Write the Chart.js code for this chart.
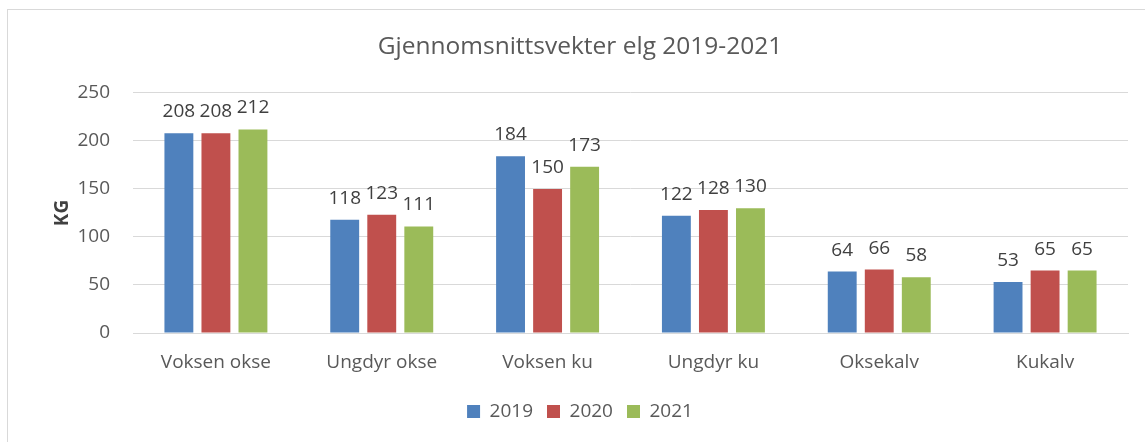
<!DOCTYPE html>
<html>
<head>
<meta charset="utf-8">
<script src="https://cdn.jsdelivr.net/npm/chart.js@4.4.1/dist/chart.umd.min.js"></script>
<style>
  html, body { margin: 0; padding: 0; background: #fff; overflow: hidden; width: 1145px; height: 442px; }
  #frame { position: absolute; left: 7px; top: 9px; width: 1160px; height: 460px; border: 1px solid #d9d9d9; box-sizing: border-box; }
  #c { position: absolute; left: 32px; top: 0; }
</style>
</head>
<body>
<div id="frame"></div>
<canvas id="c" width="1113" height="442"></canvas>
<script>
const categories = ["Voksen okse", "Ungdyr okse", "Voksen ku", "Ungdyr ku", "Oksekalv", "Kukalv"];
const seriesNames = ["2019", "2020", "2021"];
const values2019 = [208, 118, 184, 122, 64, 53];
const values2020 = [208, 123, 150, 128, 66, 65];
const values2021 = [212, 111, 173, 130, 58, 65];
const yTicks = [0, 50, 100, 150, 200, 250];

const colors = ["#4F81BD", "#C0504D", "#9BBB59"];
const FONT = "'Open Sans', 'Noto Sans', sans-serif";
const TXT = "#595959";

const valueLabels = {
  id: 'valueLabels',
  afterDatasetsDraw(chart) {
    const ctx = chart.ctx;
    ctx.save();
    ctx.font = "19px " + FONT;
    ctx.fillStyle = "#404040";
    ctx.textAlign = "center";
    ctx.textBaseline = "alphabetic";
    chart.data.datasets.forEach((ds, i) => {
      const meta = chart.getDatasetMeta(i);
      meta.data.forEach((bar, j) => {
        ctx.fillText(String(ds.data[j]), bar.x, bar.y - 16);
      });
    });
    ctx.restore();
  }
};

new Chart(document.getElementById('c'), {
  type: 'bar',
  data: {
    labels: categories,
    datasets: [
      { label: seriesNames[0], data: values2019, backgroundColor: colors[0] },
      { label: seriesNames[1], data: values2020, backgroundColor: colors[1] },
      { label: seriesNames[2], data: values2021, backgroundColor: colors[2] }
    ]
  },
  options: {
    responsive: false,
    animation: false,
    devicePixelRatio: 1,
    layout: { padding: { left: 0, right: 17, top: 0, bottom: 11 } },
    datasets: { bar: { categoryPercentage: 0.67, barPercentage: 0.78 } },
    plugins: {
      title: {
        display: true,
        text: "Gjennomsnittsvekter elg 2019-2021",
        color: TXT,
        font: { family: FONT, size: 24.5, weight: 'normal' },
        padding: { top: 32, bottom: 31.5 }
      },
      legend: {
        position: 'bottom',
        labels: {
          color: TXT,
          font: { family: FONT, size: 19 },
          boxWidth: 13,
          boxHeight: 13,
          padding: 14
        }
      },
      tooltip: { enabled: false }
    },
    scales: {
      x: {
        grid: { display: false, drawTicks: false },
        border: { display: true, color: "#d9d9d9", width: 1 },
        ticks: { color: TXT, font: { family: FONT, size: 19 }, padding: 18, maxRotation: 0 },
        afterFit(scale) { scale.height = 55; }
      },
      y: {
        min: 0, max: 250,
        afterBuildTicks(scale) { scale.ticks = yTicks.map(v => ({ value: v })); },
        grid: { color: "#d9d9d9", drawTicks: false },
        border: { display: false },
        ticks: { color: TXT, font: { family: FONT, size: 19 }, padding: 23 },
        title: {
          display: true, text: "KG", color: "#404040",
          font: { family: FONT, size: 19, weight: 'bold' },
          padding: { top: 19, bottom: 0 }
        },
        afterFit(scale) { scale.width = 101; }
      }
    }
  },
  plugins: [valueLabels]
});
</script>
</body>
</html>
